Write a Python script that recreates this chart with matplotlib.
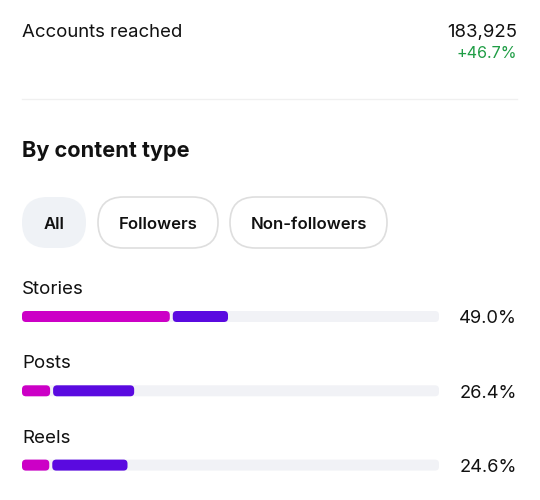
import matplotlib
matplotlib.use("Agg")
import matplotlib.pyplot as plt
from matplotlib.patches import FancyBboxPatch

plt.rcParams['font.family'] = ['Inter', 'DejaVu Sans']

# data
categories = ["Stories", "Posts", "Reels"]
followers = [35.8, 7.1, 6.9]
non_followers = [13.6, 19.8, 18.4]
shares = [49.0, 26.4, 24.6]
filters = ["All", "Followers", "Non-followers"]
accounts_reached = 183925
change = 46.7

W, H = 540, 500
fig = plt.figure(figsize=(W / 100, H / 100), dpi=100)

# background axes in pixel units, for text and pills
ax = fig.add_axes([0, 0, 1, 1])
ax.set_xlim(0, W)
ax.set_ylim(H, 0)
ax.axis("off")

left, right = 22, 517
ax.text(left, 37, "Accounts reached", fontsize=13.4, color="#111111", va="baseline")
ax.text(right, 37, f"{accounts_reached:,}", fontsize=13.4, color="#111111", va="baseline", ha="right")
ax.text(right, 57.5, f"+{change}%", fontsize=11.6, color="#1F9D45", va="baseline", ha="right")
ax.plot([left, right], [99, 99], color="#F0F0F0", lw=1)
ax.text(left, 157, "By content type", fontsize=15.6, fontweight="bold", color="#111111", va="baseline")

# filter pills
pill_x = [22, 98, 230]
pill_w = [64, 120, 157]
for i, (lab, x0, w) in enumerate(zip(filters, pill_x, pill_w)):
    if i == 0:
        fc, ec = "#EFF2F6", "none"
    else:
        fc, ec = "white", "#DEDEDE"
    p = FancyBboxPatch((x0, 197), w, 51, boxstyle="round,pad=0,rounding_size=25.5",
                       fc=fc, ec=ec, lw=1.2)
    ax.add_patch(p)
    ax.text(x0 + w / 2, 229, lab, fontsize=12, fontweight="semibold", color="#111111",
            ha="center", va="baseline")

# bars axes: x is percent of accounts reached
row0, step = 316.5, 74.3
track_l, track_r = 22, 439
ylo, yhi = -0.5, 2.4
bax = fig.add_axes([track_l / W, 1 - (row0 + yhi * step) / H,
                    (track_r - track_l) / W, (yhi - ylo) * step / H])
bax.set_xlim(0, 100)
bax.set_ylim(yhi, ylo)
bax.axis("off")
bax.patch.set_alpha(0)

px_x = (track_r - track_l) / 100
aspect = px_x / step
bar_h = 11 / step
r = 4 / px_x
gap = 3 / px_x


def rbox(x0, x1, y, color, rad=r):
    bax.add_patch(FancyBboxPatch((x0, y - bar_h / 2), x1 - x0, bar_h,
                                 boxstyle=f"round,pad=0,rounding_size={rad}",
                                 mutation_aspect=aspect, fc=color, ec="none"))


for i, cat in enumerate(categories):
    rbox(0, 100, i, "#F1F2F6")
    f = followers[i]
    n = non_followers[i]
    rbox(0, f - gap / 2, i, "#CC00C6")
    rbox(f + gap / 2, f + n, i, "#5A0AE0")
    yc = row0 + i * step
    ax.text(left, yc - 22.5, cat, fontsize=13.5, color="#111111", va="baseline")
    ax.text(right, yc + 6.8, f"{shares[i]:.1f}%", fontsize=13.2, color="#111111",
            va="baseline", ha="right")

fig.savefig("out.png", dpi=100, facecolor="white")
